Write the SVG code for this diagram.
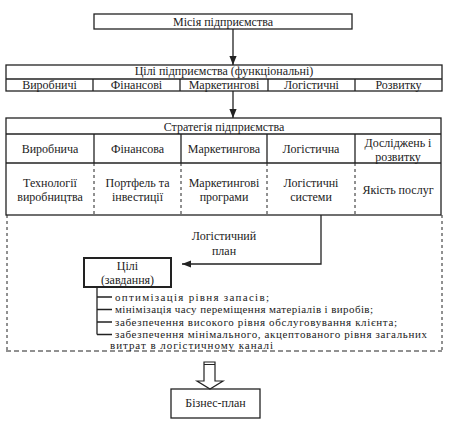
<svg xmlns="http://www.w3.org/2000/svg" width="460" height="432" viewBox="0 0 460 432">
<style>
text{font-family:"Liberation Serif","Times New Roman",serif;font-size:12px;fill:#222;text-anchor:middle}
.b{fill:#fff;stroke:#222;stroke-width:1.3}
.l{stroke:#222;stroke-width:1.3;fill:none}
.d{stroke:#222;stroke-width:1;fill:none;stroke-dasharray:3,3}
.t{text-anchor:start;font-size:11px}
</style>
<defs>
<marker id="ah" viewBox="0 0 10 10" refX="10" refY="5" markerWidth="9" markerHeight="9" markerUnits="userSpaceOnUse" orient="auto">
<path d="M0,1 L10,5 L0,9 z" fill="#222"/>
</marker>
</defs>
<rect width="460" height="432" fill="#fff"/>
<g id="mission">
<rect class="b" x="94" y="14" width="258" height="15"/>
<text x="223" y="25.5">Місія підприємства</text>
</g>
<g id="goals">
<rect class="b" x="6" y="65" width="436" height="26"/>
<line class="l" x1="6" y1="79" x2="442" y2="79"/>
<line class="l" x1="93" y1="79" x2="93" y2="91"/>
<line class="l" x1="180" y1="79" x2="180" y2="91"/>
<line class="l" x1="268" y1="79" x2="268" y2="91"/>
<line class="l" x1="355" y1="79" x2="355" y2="91"/>
<text x="224" y="75">Цілі підприємства (функціональні)</text>
<text x="49.5" y="89">Виробничі</text>
<text x="136.5" y="89">Фінансові</text>
<text x="224" y="89">Маркетингові</text>
<text x="311.5" y="89">Логістичні</text>
<text x="398.5" y="89">Розвитку</text>
</g>
<g id="strategy">
<rect class="b" x="6" y="118" width="435" height="97"/>
<line class="l" x1="6" y1="134" x2="441" y2="134"/>
<line class="l" x1="6" y1="163" x2="441" y2="163"/>
<line class="l" x1="94" y1="134" x2="94" y2="163"/>
<line class="l" x1="181" y1="134" x2="181" y2="163"/>
<line class="l" x1="267" y1="134" x2="267" y2="163"/>
<line class="l" x1="355" y1="134" x2="355" y2="163"/>
<line class="d" x1="94" y1="163" x2="94" y2="215"/>
<line class="d" x1="181" y1="163" x2="181" y2="215"/>
<line class="d" x1="267" y1="163" x2="267" y2="215"/>
<line class="d" x1="355" y1="163" x2="355" y2="215"/>
<text x="224" y="131">Стратегія підприємства</text>
<text x="50" y="153">Виробнича</text>
<text x="137.5" y="153">Фінансова</text>
<text x="224" y="153">Маркетингова</text>
<text x="311" y="153">Логістична</text>
<text x="398" y="147">Досліджень і</text>
<text x="398" y="161">розвитку</text>
<text x="50" y="187">Технології</text>
<text x="50" y="201">виробництва</text>
<text x="137.5" y="187">Портфель та</text>
<text x="137.5" y="201">інвестиції</text>
<text x="224" y="187">Маркетингові</text>
<text x="224" y="201">програми</text>
<text x="311" y="187">Логістичні</text>
<text x="311" y="201">системи</text>
<text x="398" y="194">Якість послуг</text>
</g>
<g id="logplan">
<line class="d" x1="7" y1="215" x2="7" y2="351"/>
<line class="d" x1="442" y1="215" x2="442" y2="351"/>
<line x1="6" y1="351" x2="442" y2="351" stroke="#222" stroke-width="1" stroke-dasharray="5,3"/>
<text x="224" y="240">Логістичний</text>
<text x="224" y="255">план</text>
</g>
<g id="tasks">
<rect x="84" y="258" width="87" height="29" fill="#fff" stroke="#222" stroke-width="2"/>
<text x="127.5" y="270">Цілі</text>
<text x="127.5" y="284">(завдання)</text>
</g>
<g id="tasklist">
<path class="l" d="M97,287 V334.5 M97,297 H112 M97,309.5 H112 M97,322 H112 M97,334.5 H112"/>
<text class="t" x="115" y="300.5" textLength="154" lengthAdjust="spacing">оптимізація рівня запасів;</text>
<text class="t" x="115" y="313" textLength="258" lengthAdjust="spacing">мінімізація часу переміщення матеріалів і виробів;</text>
<text class="t" x="115" y="325.5" textLength="282" lengthAdjust="spacing">забезпечення високого рівня обслуговування клієнта;</text>
<text class="t" x="115" y="338" textLength="312" lengthAdjust="spacing">забезпечення мінімального, акцептованого рівня загальних</text>
<text class="t" x="110" y="348.5" textLength="163" lengthAdjust="spacing">витрат в логістичному каналі</text>
</g>
<g id="bizplan">
<rect class="b" x="171" y="389" width="89" height="29"/>
<text x="215.5" y="407">Бізнес-план</text>
</g>
<g id="connectors">
<line class="l" x1="233" y1="29" x2="233" y2="65" marker-end="url(#ah)"/>
<line class="l" x1="233" y1="91" x2="233" y2="118" marker-end="url(#ah)"/>
<polyline class="l" points="321,215 321,264 182,264" marker-end="url(#ah)"/>
<path d="M204,362 H215 V381 H223 L210,389 L197,381 H204 Z" fill="#fff" stroke="#222" stroke-width="1.2"/>
<line x1="204" y1="364.5" x2="215" y2="364.5" stroke="#222" stroke-width="1"/>
</g>
</svg>
